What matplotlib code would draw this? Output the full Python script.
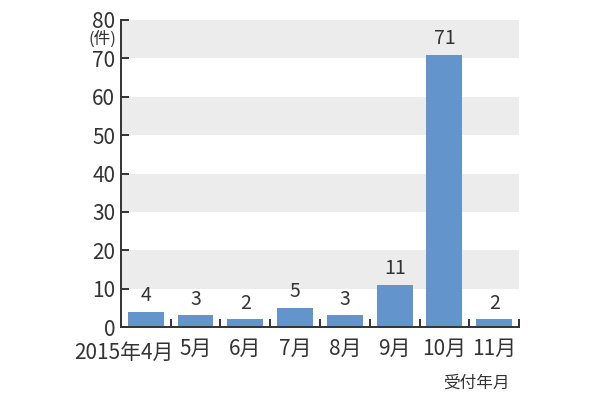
import matplotlib
matplotlib.use("Agg")
import matplotlib.pyplot as plt
from matplotlib.ticker import FixedLocator

plt.rcParams['font.family'] = ['Noto Sans CJK JP', 'DejaVu Sans']

months = ["2015年4月", "5月", "6月", "7月", "8月", "9月", "10月", "11月"]
counts = [4, 3, 2, 5, 3, 11, 71, 2]
yticks = [0, 10, 20, 30, 40, 50, 60, 70, 80]

bar_color = "#6394cb"
band_color = "#ececec"
ink = "#333333"

fig = plt.figure(figsize=(6.1, 4.0), dpi=100)
ax = fig.add_axes([0.198, 0.1825, 0.653, 0.7675])

xs = list(range(len(months)))
ax.set_xlim(-0.5, len(months) - 0.5)
ax.set_ylim(0, 80)

# alternating gray bands
for lo in range(10, 80, 20):
    ax.axhspan(lo, lo + 10, color=band_color, lw=0, zorder=0)

bars = ax.bar(xs, counts, width=0.72, color=bar_color, zorder=2)
for x, v in zip(xs, counts):
    ax.annotate(str(v), (x, v), xytext=(0, 4), textcoords="offset points",
                ha="center", va="bottom", fontsize=14, color=ink)

for side in ("top", "right"):
    ax.spines[side].set_visible(False)
for side in ("left", "bottom"):
    ax.spines[side].set_linewidth(1.4)
    ax.spines[side].set_color(ink)

ax.set_yticks(yticks)
ax.tick_params(axis="y", direction="in", length=6, width=1.4, color=ink,
               labelsize=15, labelcolor=ink, pad=4)

# month labels centred on bars, tick marks on boundaries
ax.set_xticks(xs)
ax.set_xticklabels([""] + months[1:])
ax.xaxis.set_minor_locator(FixedLocator([x + 0.5 for x in xs]))
ax.tick_params(axis="x", which="major", length=0, labelsize=15,
               labelcolor=ink, pad=8)
ax.tick_params(axis="x", which="minor", direction="in", length=6,
               width=1.4, color=ink)
ax.text(0.56, -0.048, months[0], transform=ax.get_xaxis_transform(),
        ha="right", va="top", fontsize=15, color=ink)

ax.text(-0.01, 0.938, "(件)", transform=ax.transAxes, ha="right",
        va="center", fontsize=12, color=ink)
ax.text(0.975, -0.155, "受付年月", transform=ax.transAxes, ha="right",
        va="top", fontsize=12, color=ink)

fig.savefig("out.png", dpi=100)
